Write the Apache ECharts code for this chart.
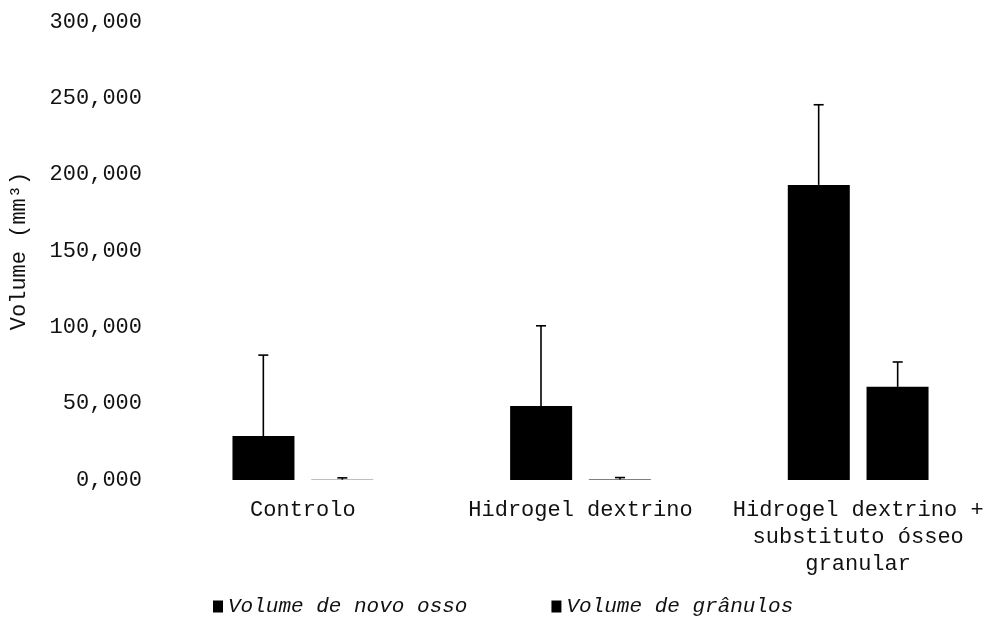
<!DOCTYPE html>
<html>
<head>
<meta charset="utf-8">
<script src="https://cdn.jsdelivr.net/npm/echarts@6/dist/echarts.min.js"></script>
<style>
  html, body { margin: 0; padding: 0; background: #fff; }
  #chart { width: 997px; height: 626px; }
</style>
</head>
<body>
<div id="chart"></div>
<script>
const categories = [
  "Controlo",
  "Hidrogel dextrino",
  "Hidrogel dextrino +\nsubstituto ósseo\ngranular"
];
const novoOsso = [28.8, 48.5, 193.3];
const novoOssoSd = [53, 52.5, 52.5];
const granulos = [0.2, 0.3, 61];
const granulosSd = [1.2, 1.3, 16.3];
const seriesNames = ["Volume de novo osso", "Volume de grânulos"];

const font = "'Liberation Mono', 'DejaVu Sans Mono', monospace";
const chart = echarts.init(document.getElementById("chart"));

// error bar drawn upward only, bar covers the lower half
function errorBar(seriesIndex) {
  return function (params, api) {
    const idx = api.value(0);
    const top = api.coord([idx, api.value(2)]);
    const base = api.coord([idx, api.value(1)]);
    const barW = 62, gap = 17;
    const offset = seriesIndex === 0 ? -(barW + gap) / 2 : (barW + gap) / 2;
    const x = base[0] + offset;
    const style = { stroke: "#000", lineWidth: 1.6 };
    return {
      type: "group",
      children: [
        { type: "line", shape: { x1: x, y1: base[1], x2: x, y2: top[1] }, style },
        { type: "line", shape: { x1: x - 5, y1: top[1], x2: x + 5, y2: top[1] }, style }
      ]
    };
  };
}

chart.setOption({
  animation: false,
  textStyle: { fontFamily: font, color: "#111" },
  grid: { left: 162, right: -5, top: 22, bottom: 146 },
  legend: {
    bottom: 4,
    left: 208,
    icon: "rect",
    itemWidth: 10,
    itemHeight: 12,
    itemGap: 84,
    data: seriesNames,
    textStyle: { fontFamily: font, fontSize: 21, fontStyle: "italic", color: "#111" }
  },
  xAxis: {
    type: "category",
    data: categories,
    axisLine: { show: false },
    axisTick: { show: false },
    axisLabel: { fontFamily: font, fontSize: 22, color: "#111", margin: 17, lineHeight: 27, interval: 0 }
  },
  yAxis: {
    type: "value",
    min: 0,
    max: 300,
    interval: 50,
    name: "Volume (mm³)",
    nameLocation: "middle",
    nameGap: 134,
    nameTextStyle: { fontFamily: font, fontSize: 22, color: "#111" },
    axisLine: { show: false },
    axisTick: { show: false },
    splitLine: { show: false },
    axisLabel: {
      fontFamily: font, fontSize: 22, color: "#111", margin: 22,
      formatter: v => v.toFixed(3).replace(".", ",")
    }
  },
  series: [
    {
      name: seriesNames[0], type: "bar", data: novoOsso,
      barWidth: 62, barGap: "27%", itemStyle: { color: "#000" }
    },
    {
      name: seriesNames[1], type: "bar", data: granulos,
      barWidth: 62, itemStyle: { color: "#000" }
    },
    {
      type: "custom", renderItem: errorBar(0), z: 10,
      data: novoOsso.map((v, i) => [i, v, v + novoOssoSd[i]])
    },
    {
      type: "custom", renderItem: errorBar(1), z: 10,
      data: granulos.map((v, i) => [i, v, v + granulosSd[i]])
    }
  ]
});
</script>
</body>
</html>
